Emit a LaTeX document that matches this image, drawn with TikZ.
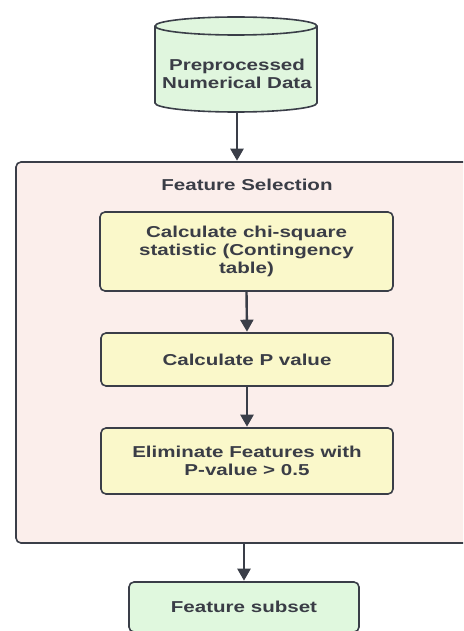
\documentclass[tikz,border=0pt]{standalone}
\usepackage{fontspec}
\setmainfont{Liberation Sans}[FakeStretch=1.3]
\usetikzlibrary{arrows.meta}

\definecolor{linec}{RGB}{58,62,72}
\definecolor{txtc}{RGB}{58,61,70}
\definecolor{cylfill}{RGB}{224,246,222}
\definecolor{contfill}{RGB}{251,238,235}
\definecolor{boxfill}{RGB}{250,248,202}
\definecolor{subfill}{RGB}{224,248,222}

\tikzset{
  lbl/.style={font=\fontsize{15.8}{18}\selectfont\bfseries, text=txtc, align=center},
  container/.style={draw=linec, fill=contfill, line width=1.6pt, rounded corners=5pt, inner sep=0pt},
  procbox/.style={lbl, draw=linec, fill=boxfill, line width=1.6pt, rounded corners=5pt, inner sep=0pt},
  outbox/.style={lbl, draw=linec, fill=subfill, line width=1.6pt, rounded corners=5pt, inner sep=0pt},
  flow/.style={draw=linec, line width=2.4pt, -{Triangle[width=13pt,length=12pt]}, shorten >=0.5pt},
}

\begin{document}
\begin{tikzpicture}[x=1pt, y=-1pt]
  \clip (0,0) rectangle (463,631);

  % input data store (y axis points down, so angle 90 is the lower side)
  \draw[draw=linec, fill=cylfill, line width=1.6pt]
    (155,26) -- (155,103) arc[start angle=180, end angle=0, x radius=81, y radius=9]
    -- (317,26) arc[start angle=0, end angle=-180, x radius=81, y radius=9] -- cycle;
  \draw[draw=linec, line width=1.6pt]
    (155,26) arc[start angle=180, end angle=0, x radius=81, y radius=9];
  \node[lbl] (data) at (237,74) {Preprocessed\\Numerical Data};
  \coordinate (cylbot) at (237,112);

  % feature selection group
  \node[container, minimum width=469pt, minimum height=381pt] (fs) at (250.5,352.5) {};
  \node[lbl] (fstitle) at (247,185) {Feature Selection};

  \node[procbox, minimum width=293pt, minimum height=79pt] (chi) at (246.5,251.5)
    {Calculate chi-square\\statistic (Contingency\\table)};
  \node[procbox, minimum width=292pt, minimum height=53pt] (pval) at (247,359.5)
    {Calculate P value};
  \node[procbox, minimum width=292pt, minimum height=66pt] (elim) at (247,461)
    {Eliminate Features with\\P-value > 0.5};

  % output
  \node[outbox, minimum width=230pt, minimum height=50pt] (sub) at (244,607)
    {Feature subset};

  % connectors
  \draw[flow] (cylbot) -- (cylbot |- fs.north);
  \draw[flow] (chi.south) -- (pval.north);
  \draw[flow] (pval.south) -- (elim.north);
  \draw[flow] (sub.north |- fs.south) -- (sub.north);
\end{tikzpicture}
\end{document}
